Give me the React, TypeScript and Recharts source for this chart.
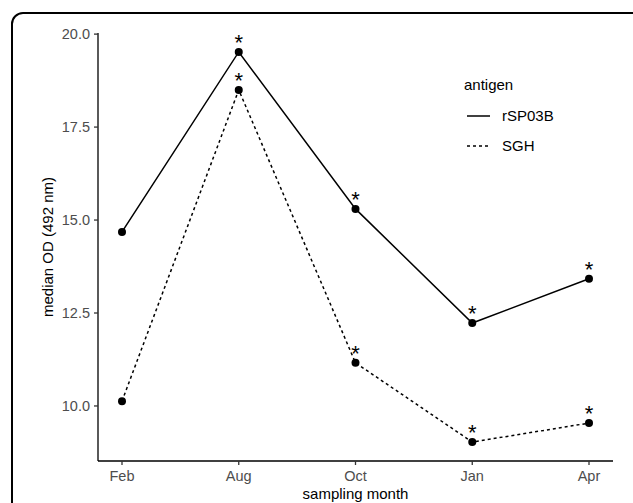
import * as React from 'react';
import { LineChart, Line, XAxis, YAxis, Label, LabelList } from 'recharts';

const months = ['Feb', 'Aug', 'Oct', 'Jan', 'Apr'];
const rSP03B = [14.68, 19.52, 15.3, 12.23, 13.42];
const SGH = [10.13, 18.5, 11.16, 9.03, 9.54];
// asterisk = significant difference at that month
const rSP03BSig = [false, true, true, true, true];
const SGHSig = [false, true, true, true, true];
const yTicks = [10, 12.5, 15, 17.5, 20];

const data = months.map((m, i) => ({
    month: m,
    rSP03B: rSP03B[i],
    SGH: SGH[i],
}));

const FONT = '"Liberation Sans", Arial, Helvetica, sans-serif';

const star = (flags: boolean[]) => (props: any) => {
    const { x, y, index } = props;
    if (!flags[index]) return null;
    return (
        <text x={x} y={y - 2} textAnchor="middle" fontSize={22} fontFamily={FONT} fill="#000">
            *
        </text>
    );
};

const LegendBox = () => (
    <div style={{ fontFamily: FONT, fontSize: 15, color: '#000' }}>
        <div style={{ marginBottom: 14 }}>antigen</div>
        <svg width={160} height={50} style={{ display: 'block' }}>
            <line x1={3} x2={26} y1={9} y2={9} stroke="#000" strokeWidth={1.5} />
            <text x={38} y={14} fontSize={15} fontFamily={FONT}>rSP03B</text>
            <line x1={3} x2={26} y1={39} y2={39} stroke="#000" strokeWidth={1.5} strokeDasharray="3 3" />
            <text x={38} y={44} fontSize={15} fontFamily={FONT}>SGH</text>
        </svg>
    </div>
);

export default function App() {
    return (
        <div style={{ position: 'fixed', left: 0, top: 0, width: 633, height: 503, background: '#fff', overflow: 'hidden' }}>
            <div
                style={{
                    position: 'absolute',
                    left: 11,
                    top: 12,
                    width: 640,
                    height: 520,
                    border: '2px solid #000',
                    borderRadius: 12,
                }}
            />
            <div style={{ position: 'absolute', left: 0, top: 0 }}>
                <LineChart width={633} height={503} data={data} margin={{ top: 33, right: 20, bottom: 0, left: 20 }}>
                    <XAxis
                        dataKey="month"
                        padding={{ left: 24, right: 24 }}
                        height={42}
                        axisLine={{ stroke: '#000', strokeWidth: 1.3 }}
                        tickLine={{ stroke: '#333', strokeWidth: 1.3 }}
                        tickSize={4}
                        tickMargin={6}
                        tick={{ fill: '#4D4D4D', fontSize: 14.5, fontFamily: FONT }}
                        interval={0}
                    >
                        <Label value="sampling month" position="insideBottom" offset={4} fill="#000" fontSize={15} fontFamily={FONT} />
                    </XAxis>
                    <YAxis
                        width={78}
                        domain={[8.52, 20.03]}
                        ticks={yTicks}
                        allowDataOverflow
                        tickFormatter={(v: number) => v.toFixed(1)}
                        axisLine={{ stroke: '#000', strokeWidth: 1.3 }}
                        tickLine={{ stroke: '#333', strokeWidth: 1.3 }}
                        tickSize={4}
                        tickMargin={4}
                        tick={{ fill: '#4D4D4D', fontSize: 14.5, fontFamily: FONT }}
                    >
                        <Label
                            value="median OD (492 nm)"
                            angle={-90}
                            position="insideLeft"
                            offset={28}
                            style={{ textAnchor: 'middle' }}
                            fill="#000"
                            fontSize={15}
                            fontFamily={FONT}
                        />
                    </YAxis>
                    <Line
                        dataKey="rSP03B"
                        stroke="#000"
                        strokeWidth={1.5}
                        dot={{ r: 4, fill: '#000', stroke: '#000', strokeWidth: 0 }}
                        activeDot={false}
                        isAnimationActive={false}
                    >
                        <LabelList dataKey="rSP03B" content={star(rSP03BSig)} />
                    </Line>
                    <Line
                        dataKey="SGH"
                        stroke="#000"
                        strokeWidth={1.5}
                        strokeDasharray="3 3"
                        dot={{ r: 4, fill: '#000', stroke: '#000', strokeWidth: 0, strokeDasharray: '' }}
                        activeDot={false}
                        isAnimationActive={false}
                    >
                        <LabelList dataKey="SGH" content={star(SGHSig)} />
                    </Line>
                </LineChart>
            </div>
            <div style={{ position: 'absolute', left: 464, top: 76 }}>
                <LegendBox />
            </div>
        </div>
    );
}
